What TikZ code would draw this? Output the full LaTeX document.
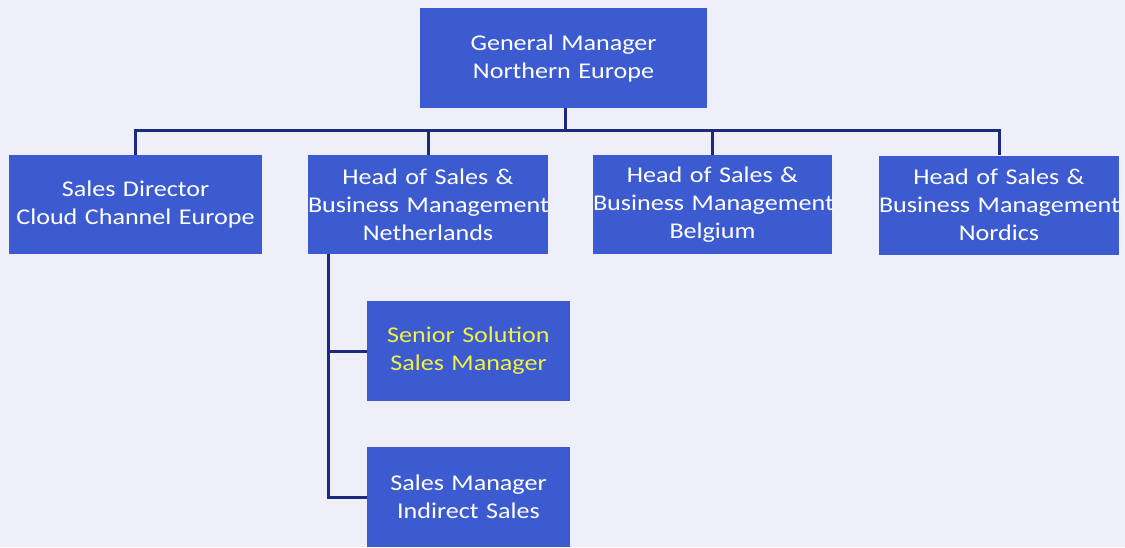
\documentclass[tikz,border=0pt]{standalone}
\usepackage{fontspec}
\setmainfont{Carlito}[FakeStretch=1.16]
\usepackage{tikz}

\definecolor{pagebg}{HTML}{EFEFF9}
\definecolor{boxblue}{HTML}{3C5BD0}
\definecolor{linknavy}{HTML}{1C2A7C}
\definecolor{hiyellow}{HTML}{F2F040}

\newcommand{\rolefont}{\fontsize{22.5}{28}\selectfont\hyphenpenalty=10000\relax\hfuzz=20pt\relax}

\begin{document}
\begin{tikzpicture}[x=1pt, y=-1pt,
        role/.style = {fill=boxblue, text=white, align=center, inner xsep=0pt, inner ysep=0pt,
                       minimum height=100pt, font=\rolefont},
        link/.style = {draw=linknavy, line width=3pt}]
        % Background
        \fill[pagebg] (0,0) rectangle (1125,547);
        \useasboundingbox (0,0) rectangle (1125,547);

        % Nodes
        \node[role, text width=287pt] (gm) at (563.5,58) {General Manager\\Northern Europe};
        \node[role, text width=253pt, minimum height=99pt] (sd) at (135.5,204.5) {Sales Director\\Cloud Channel Europe};
        \node[role, text width=240pt, minimum height=99pt] (hn) at (428,204.5) {Head of Sales \&\\Business~Management\\Netherlands};
        \node[role, text width=239pt, minimum height=99pt] (hb) at (712.5,204.5) {Head of Sales \&\\Business~Management\\Belgium};
        \node[role, text width=240pt, minimum height=99pt] (hno) at (999,205) {Head of Sales \&\\Business~Management\\Nordics};
        \node[role, text width=203pt, text=hiyellow] (ss) at (468.5,351) {Senior Solution\\Sales Manager};
        \node[role, text width=203pt] (sm) at (468.5,497) {Sales Manager\\Indirect Sales};
        \coordinate (bus) at (565,130);

        % Edges
        \draw[link] ([xshift=1.5]gm.south) -- (bus);
        \draw[link] (sd.north) |- (bus);
        \draw[link] (hn.north) |- (bus);
        \draw[link] (hb.north) |- (bus);
        \draw[link] (hno.north) |- (bus);

        % Netherlands team
        \draw[link] ([xshift=21]hn.south west) |- (ss.west);
        \draw[link] ([xshift=21]hn.south west) |- (sm.west);
    \end{tikzpicture}
\end{document}
